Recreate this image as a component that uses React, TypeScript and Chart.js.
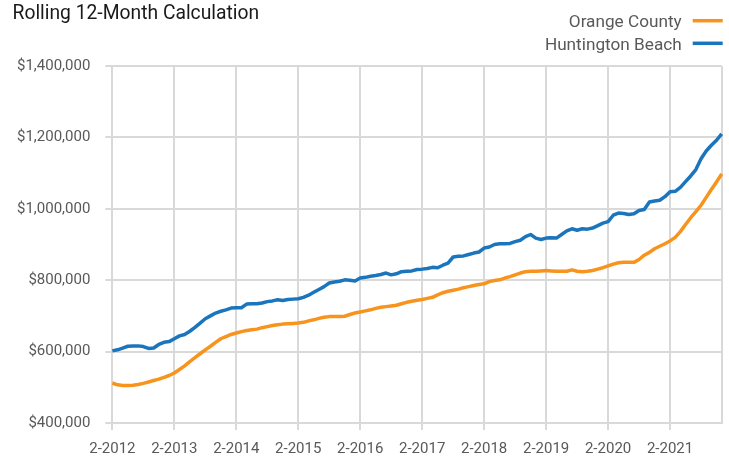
import React, { useEffect, useRef } from "react";
import { Chart, registerables } from "chart.js";

Chart.register(...registerables);

const TITLE = "Rolling 12-Month Calculation";
const SERIES_NAMES = ["Orange County", "Huntington Beach"];
const SERIES_COLORS = ["#F7941E", "#1B75BC"];

// Monthly categories: 2-2012 .. 12-2021
const FIRST_YEAR = 2012;
const FIRST_MONTH = 2;
const MONTH_COUNT = 119;
const MONTHS: string[] = Array.from({ length: MONTH_COUNT }, (_, i) => {
  const k = FIRST_MONTH - 1 + i;
  return `${(k % 12) + 1}-${FIRST_YEAR + Math.floor(k / 12)}`;
});

const TICK_LABELS = ["2-2012", "2-2013", "2-2014", "2-2015", "2-2016", "2-2017", "2-2018", "2-2019", "2-2020", "2-2021"];
const Y_MIN = 400000;
const Y_MAX = 1400000;
const Y_STEP = 200000;

const ORANGE_COUNTY = [
  512000, 507000, 505000, 505000, 506000, 508000, 511000, 515000, 519000, 523000, 528000, 533000,
  540000, 550000, 560000, 572000, 583000, 594000, 605000, 615000, 626000, 636000, 642000, 648000,
  652000, 656000, 659000, 661000, 663000, 667000, 670000, 673000, 675000, 677000, 678000, 679000,
  680000, 682000, 686000, 689000, 693000, 696000, 698000, 698000, 698000, 699000, 704000, 708000,
  711000, 714000, 717000, 721000, 724000, 726000, 728000, 730000, 734000, 738000, 741000, 744000,
  746000, 749000, 752000, 759000, 765000, 769000, 772000, 775000, 779000, 782000, 785000, 788000,
  790000, 796000, 799000, 801000, 806000, 810000, 815000, 820000, 824000, 825000, 825000, 826000,
  827000, 826000, 825000, 825000, 825000, 829000, 825000, 824000, 825000, 827000, 831000, 835000,
  840000, 845000, 849000, 850000, 850000, 850000, 858000, 870000, 878000, 888000, 895000, 902000,
  910000, 920000, 936000, 956000, 975000, 992000, 1010000, 1032000, 1054000, 1075000, 1098000,
];

const HUNTINGTON_BEACH = [
  602000, 605000, 610000, 615000, 616000, 616000, 614000, 609000, 610000, 620000, 626000, 628000,
  636000, 644000, 648000, 657000, 668000, 680000, 692000, 700000, 708000, 713000, 717000, 722000,
  723000, 723000, 733000, 734000, 734000, 736000, 740000, 742000, 745000, 743000, 746000, 747000,
  748000, 752000, 758000, 766000, 774000, 782000, 792000, 795000, 797000, 801000, 800000, 798000,
  806000, 808000, 811000, 813000, 816000, 820000, 815000, 818000, 824000, 825000, 826000, 830000,
  831000, 833000, 836000, 835000, 842000, 848000, 865000, 867000, 868000, 872000, 876000, 879000,
  890000, 893000, 900000, 902000, 902000, 903000, 908000, 912000, 922000, 928000, 918000, 914000,
  918000, 919000, 918000, 928000, 938000, 944000, 940000, 944000, 943000, 946000, 953000, 960000,
  964000, 982000, 988000, 987000, 984000, 986000, 995000, 998000, 1019000, 1022000, 1024000, 1034000,
  1048000, 1049000, 1060000, 1076000, 1092000, 1110000, 1140000, 1162000, 1178000, 1192000, 1210000,
];

const FONT = "Roboto, 'Noto Sans', Arial, sans-serif";
const GRID = "#d9d9d9";
const TEXT = "#595959";

const headerPlugin = {
  id: "header",
  afterDraw(chart: any) {
    const ctx = chart.ctx;
    ctx.save();
    ctx.textBaseline = "alphabetic";
    ctx.fillStyle = "#1a1a1a";
    ctx.font = `19.3px ${FONT}`;
    ctx.textAlign = "left";
    ctx.fillText(TITLE, 12.5, 18.5);

    const right = chart.chartArea.right;
    chart.data.datasets.forEach((ds: any, i: number) => {
      const cy = 20.7 + i * 22.6;
      ctx.strokeStyle = ds.borderColor;
      ctx.lineWidth = 3.5;
      ctx.lineCap = "butt";
      ctx.beginPath();
      ctx.moveTo(right - 29, cy);
      ctx.lineTo(right + 1, cy);
      ctx.stroke();
      ctx.fillStyle = TEXT;
      ctx.font = `17.2px ${FONT}`;
      ctx.textAlign = "right";
      ctx.fillText(ds.label, right - 40, cy + 6.2);
    });
    ctx.restore();
  },
};

export default function App() {
  const ref = useRef<HTMLCanvasElement>(null);
  useEffect(() => {
    if (!ref.current) return;
    const chart = new Chart(ref.current, {
      type: "line",
      data: {
        labels: MONTHS,
        datasets: [
          {
            label: SERIES_NAMES[0],
            data: ORANGE_COUNTY,
            borderColor: SERIES_COLORS[0],
            backgroundColor: SERIES_COLORS[0],
            borderWidth: 3.5,
            pointRadius: 0,
            tension: 0,
            borderJoinStyle: "round",
          },
          {
            label: SERIES_NAMES[1],
            data: HUNTINGTON_BEACH,
            borderColor: SERIES_COLORS[1],
            backgroundColor: SERIES_COLORS[1],
            borderWidth: 3.5,
            pointRadius: 0,
            tension: 0,
            borderJoinStyle: "round",
          },
        ],
      },
      options: {
        responsive: false,
        animation: false,
        layout: { padding: { left: 2, right: 7.3, top: 66, bottom: -13 } },
        plugins: {
          legend: { display: false },
          title: { display: false },
          tooltip: { enabled: false },
        },
        scales: {
          x: {
            type: "category",
            offset: false,
            afterFit: (scale: any) => {
              scale.paddingRight = 0;
            },
            border: { color: GRID, width: 2 },
            grid: {
              lineWidth: 2,
              tickLength: 7,
              color: (c: any) =>
                c.index % 12 === 0 || c.index === MONTH_COUNT - 1 ? GRID : "rgba(0,0,0,0)",
              tickColor: (c: any) => (c.index % 12 === 0 ? GRID : "rgba(0,0,0,0)"),
            },
            ticks: {
              autoSkip: false,
              maxRotation: 0,
              minRotation: 0,
              padding: 12,
              color: TEXT,
              font: { family: FONT, size: 15, lineHeight: 1.0 },
              callback: (_v: any, i: number) => {
                const lab = MONTHS[i];
                return TICK_LABELS.includes(lab) ? lab : "";
              },
            },
          },
          y: {
            min: Y_MIN,
            max: Y_MAX,
            border: { color: GRID, width: 2 },
            grid: { color: GRID, lineWidth: 2, tickLength: 7 },
            ticks: {
              stepSize: Y_STEP,
              padding: 15,
              color: TEXT,
              font: { family: FONT, size: 15 },
              callback: (v: any) => "$" + Number(v).toLocaleString("en-US"),
            },
          },
        },
      },
      plugins: [headerPlugin],
    } as any);
    return () => chart.destroy();
  }, []);
  return (
    <div style={{ position: "fixed", left: 0, top: 0, width: 729, height: 456, background: "#fff" }}>
      <canvas ref={ref} width={729} height={456} style={{ display: "block" }} />
    </div>
  );
}
